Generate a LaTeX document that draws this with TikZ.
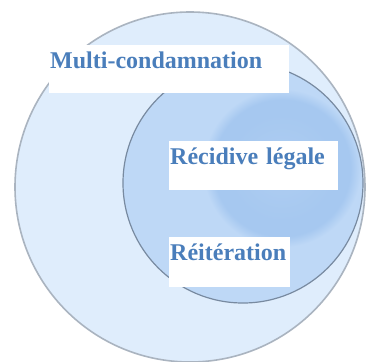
\documentclass[tikz,border=0pt]{standalone}
\usepackage{fontspec}
\setmainfont{Liberation Serif}
\definecolor{txtblue}{RGB}{74,126,187}
\definecolor{outerfill}{RGB}{223,237,252}
\definecolor{outeredge}{RGB}{170,180,192}
\definecolor{midfill}{RGB}{190,216,246}
\definecolor{midedge}{RGB}{120,138,160}
\definecolor{innerfill}{RGB}{166,200,240}
\pgfdeclareradialshading{softdisc}{\pgfpoint{0bp}{0bp}}{color(0bp)=(innerfill!90!white); color(15bp)=(innerfill); color(19bp)=(innerfill); color(22bp)=(midfill); color(50bp)=(midfill)}
\begin{document}
\begin{tikzpicture}[x=1pt,y=-1pt,
  lbl/.style={anchor=north west, fill=white, inner xsep=1pt, inner ysep=3pt,
    text height=20pt, align=left, font=\fontsize{24}{28}\selectfont\bfseries, text=txtblue}]
\useasboundingbox (0,0) rectangle (368,362);
\fill[white] (0,0) rectangle (368,362);
% outer circle
\fill[outerfill] (190,187) circle[radius=175];
\draw[outeredge, line width=1.6pt] (190,187) circle[radius=175];
% middle circle
\fill[midfill] (243,183) circle[radius=120];
\begin{scope}
  \clip (243,183) circle[radius=120];
  \shade[shading=softdisc] (282,168) circle[radius=90];
\end{scope}
\draw[midedge, line width=1.2pt] (243,183) circle[radius=120];
% labels
\node[lbl, text width=238pt, text depth=22pt] (multi) at (49,45) {Multi-condamnation};
\node[lbl, text width=167pt, text depth=23pt] (recid) at (169,141) {Récidive légale};
\node[lbl, text width=119pt, text depth=24pt] (reit) at (169,237) {Réitération};
\end{tikzpicture}
\end{document}
